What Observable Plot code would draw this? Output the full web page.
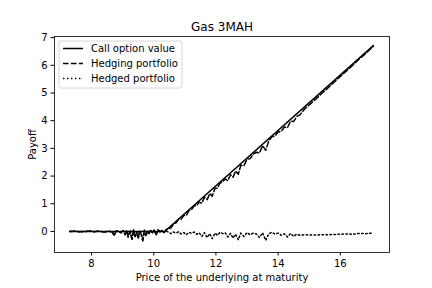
<!DOCTYPE html>
<html><head><meta charset="utf-8">
<script src="https://cdn.jsdelivr.net/npm/d3@7"></script>
<script src="https://cdn.jsdelivr.net/npm/@observablehq/plot@0.6"></script>
<style>body{margin:0;background:#fff} svg{font-family:"DejaVu Sans",sans-serif}</style>
</head><body><div id="chart"></div><script>
const chartTitle = "Gas 3MAH";
const xLabel = "Price of the underlying at maturity";
const yLabel = "Payoff";
const seriesNames = ["Call option value", "Hedging portfolio", "Hedged portfolio"];
const xTicks = [8, 10, 12, 14, 16];
const yTicks = [0, 1, 2, 3, 4, 5, 6, 7];

const callX = [7.30, 10.35, 17.06];
const callY = [0, 0, 6.71];

const priceX = [7.30,7.45,7.62,7.80,7.95,8.08,8.20,8.31,8.42,8.52,8.60,8.68,8.72,8.80,8.88,8.95,9.02,9.08,9.13,9.18,9.24,9.30,9.35,9.40,9.45,9.50,9.55,9.60,9.65,9.70,9.75,9.80,9.85,9.90,9.96,10.02,10.08,10.14,10.20,10.27,10.33,10.40,10.47,10.55,10.63,10.72,10.80,10.88,10.97,11.05,11.13,11.22,11.30,11.38,11.46,11.55,11.63,11.72,11.80,11.88,11.97,12.05,12.13,12.22,12.30,12.38,12.47,12.55,12.63,12.72,12.80,12.90,13.00,13.10,13.20,13.30,13.40,13.50,13.60,13.70,13.80,13.90,14.00,14.10,14.20,14.30,14.40,14.50,14.60,14.70,14.85,15.00,15.20,15.40,15.60,15.80,16.00,16.20,16.40,16.60,16.80,17.06];

const hedgingY = [0.00,0.01,-0.01,0.00,0.02,-0.01,0.01,0.00,-0.02,0.01,0.00,-0.03,-0.15,0.02,0.00,-0.05,0.03,-0.12,0.04,-0.20,0.02,-0.28,0.05,-0.18,-0.02,-0.25,0.03,-0.10,-0.34,0.04,-0.15,0.02,-0.08,0.06,-0.05,0.05,-0.12,0.06,-0.02,0.04,-0.04,0.07,0.09,0.12,0.26,0.31,0.44,0.44,0.58,0.58,0.75,0.80,0.93,0.93,1.06,1.02,1.24,1.15,1.37,1.27,1.56,1.56,1.75,1.79,1.90,1.83,2.05,1.96,2.18,2.07,2.39,2.37,2.61,2.63,2.79,2.86,2.83,3.10,2.93,3.27,3.42,3.45,3.59,3.61,3.77,3.75,3.98,3.97,4.15,4.21,4.42,4.57,4.77,4.98,5.18,5.39,5.60,5.80,6.00,6.22,6.41,6.69];

const hedgedY = [0.00,0.01,-0.01,0.00,0.02,-0.01,0.01,0.00,-0.02,0.01,0.00,-0.03,-0.15,0.02,0.00,-0.05,0.03,-0.12,0.04,-0.20,0.02,-0.28,0.05,-0.18,-0.02,-0.25,0.03,-0.10,-0.34,0.04,-0.15,0.02,-0.08,0.06,-0.05,0.05,-0.12,0.06,-0.02,0.04,-0.04,0.02,-0.03,-0.08,-0.02,-0.06,-0.01,-0.09,-0.04,-0.12,-0.03,-0.07,-0.02,-0.10,-0.05,-0.18,-0.04,-0.22,-0.08,-0.26,-0.06,-0.14,-0.03,-0.08,-0.05,-0.20,-0.07,-0.24,-0.10,-0.30,-0.06,-0.18,-0.04,-0.12,-0.06,-0.09,-0.22,-0.05,-0.32,-0.08,-0.03,-0.10,-0.06,-0.14,-0.08,-0.20,-0.07,-0.18,-0.10,-0.14,-0.12,-0.13,-0.13,-0.12,-0.12,-0.11,-0.10,-0.09,-0.10,-0.07,-0.08,-0.06];

const callData = callX.map((x, i) => ({x, y: callY[i]}));
const hedgingData = priceX.map((x, i) => ({x, y: hedgingY[i]}));
const hedgedData = priceX.map((x, i) => ({x, y: hedgedY[i]}));
const dashes = [null, "5.55,2.4", "1.5,2.475"];

const chart = Plot.plot({
  width: 432, height: 288,
  marginLeft: 54, marginRight: 43, marginTop: 36, marginBottom: 36,
  style: {fontFamily: "DejaVu Sans, sans-serif", fontSize: "10px", background: "white", color: "black"},
  x: {domain: [6.81, 17.58], ticks: xTicks, tickFormat: d => String(d), label: xLabel, labelAnchor: "center", labelArrow: "none", labelOffset: 28, tickSize: 3.5, tickPadding: 3.5},
  y: {domain: [-0.76, 7.04], ticks: yTicks, tickFormat: d => String(d), label: yLabel, labelAnchor: "center", labelArrow: "none", labelOffset: 26, tickSize: 3.5, tickPadding: 3.5},
  marks: [
    Plot.line(callData, {x: "x", y: "y", stroke: "black", strokeWidth: 1.5}),
    Plot.line(hedgingData, {x: "x", y: "y", stroke: "black", strokeWidth: 1.5, strokeDasharray: dashes[1]}),
    Plot.line(hedgedData, {x: "x", y: "y", stroke: "black", strokeWidth: 1.5, strokeDasharray: dashes[2]}),
    Plot.frame({stroke: "black", strokeWidth: 0.8}),
    Plot.text([chartTitle], {frameAnchor: "top", lineAnchor: "bottom", dy: -6, fontSize: 12, text: d => d, fill: "black"})
  ]
});
document.getElementById("chart").appendChild(chart);

// legend inside the axes, upper left
const svg = d3.select(chart);
const lg = svg.append("g").attr("transform", "translate(59,41)").attr("text-anchor", "start");
lg.append("rect").attr("x", 0).attr("y", 0).attr("width", 123).attr("height", 47)
  .attr("rx", 2.5).attr("fill", "white").attr("fill-opacity", 0.8)
  .attr("stroke", "#cccccc").attr("stroke-width", 0.8);
seriesNames.forEach((name, i) => {
  const yy = 7.5 + i * 15;
  const ln = lg.append("line").attr("x1", 4).attr("x2", 24).attr("y1", yy).attr("y2", yy)
    .attr("stroke", "black").attr("stroke-width", 1.5);
  if (dashes[i]) ln.attr("stroke-dasharray", dashes[i]);
  lg.append("text").attr("x", 32).attr("y", yy).attr("dy", "0.35em")
    .attr("text-anchor", "start").attr("font-size", 10).attr("fill", "black").text(name);
});
</script></body></html>
